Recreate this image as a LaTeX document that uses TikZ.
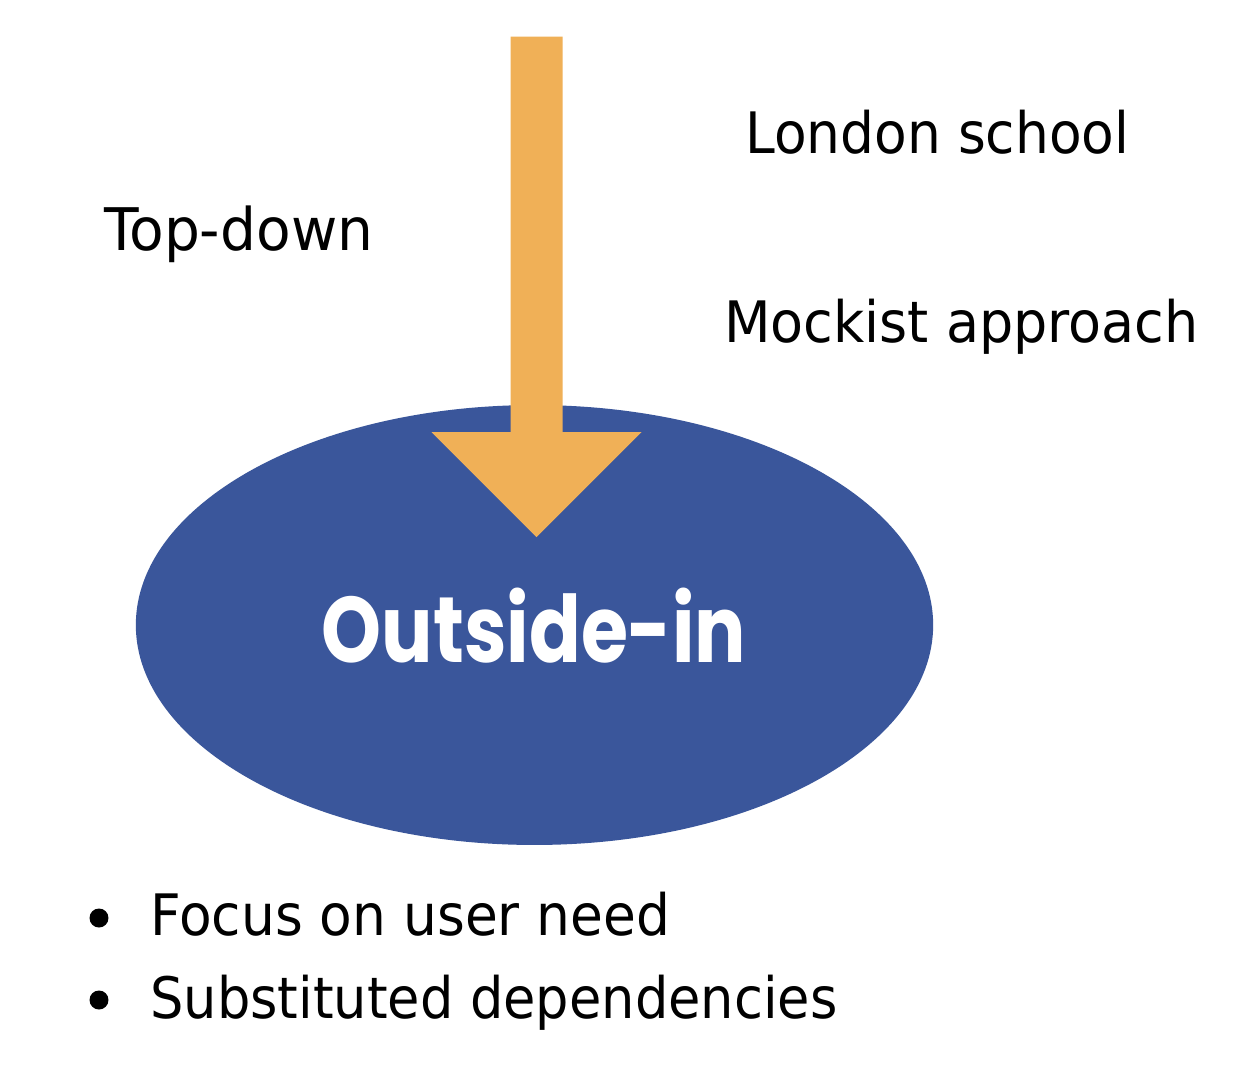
\documentclass[tikz,border=0pt]{standalone}
\usepackage{fontspec}
\setmainfont{DejaVu Sans}
\newfontfamily\titlefont{Poppins}
\usetikzlibrary{shapes.geometric}
\definecolor{ovalblue}{RGB}{58,86,155}
\definecolor{arroworange}{RGB}{240,176,87}
\tikzset{
  txt/.style={anchor=base west, inner sep=0pt, font=\fontsize{30.4pt}{35pt}\selectfont, text=black},
  dot/.style={circle, fill=black, inner sep=0pt, minimum size=0.38cm},
}
\newcommand{\vs}[1]{\scalebox{1}[1.07]{#1}}
\begin{document}
\begin{tikzpicture}[x=0.02cm, y=-0.02cm]
\useasboundingbox (0,0) rectangle (1252,1080);
\fill[white] (0,0) rectangle (1252,1080);
% oval
\node[ellipse, fill=ovalblue, inner sep=0pt, minimum width=15.95cm, minimum height=8.8cm] (oval) at (534.5,625) {};
% block arrow
\fill[arroworange] (510.5,36.5) -- (562.5,36.5) -- (562.5,432) -- (641.5,432) -- (536.5,537) -- (431.5,432) -- (510.5,432) -- cycle;
% title
\node[anchor=base, inner sep=0pt, text=white, font=\titlefont\bfseries\fontsize{43.4pt}{48pt}\selectfont] (title) at (534,662) {\scalebox{1}[1.22]{Outside-in}};
% side labels
\node[txt] (topdown) at (104,250) {\scalebox{1.06}[1.1]{Top-down}};
\node[txt] (london) at (745,153) {\vs{London school}};
\node[txt] (mockist) at (724,342) {\scalebox{1.01}[1.07]{Mockist approach}};
% bullets
\node[dot] (b1) at (99,918) {};
\node[txt] (focus) at (150,935) {\vs{Focus on user need}};
\node[dot] (b2) at (99,1000) {};
\node[txt] (subst) at (150,1018) {\scalebox{0.985}[1.07]{Substituted dependencies}};
\end{tikzpicture}
\end{document}
